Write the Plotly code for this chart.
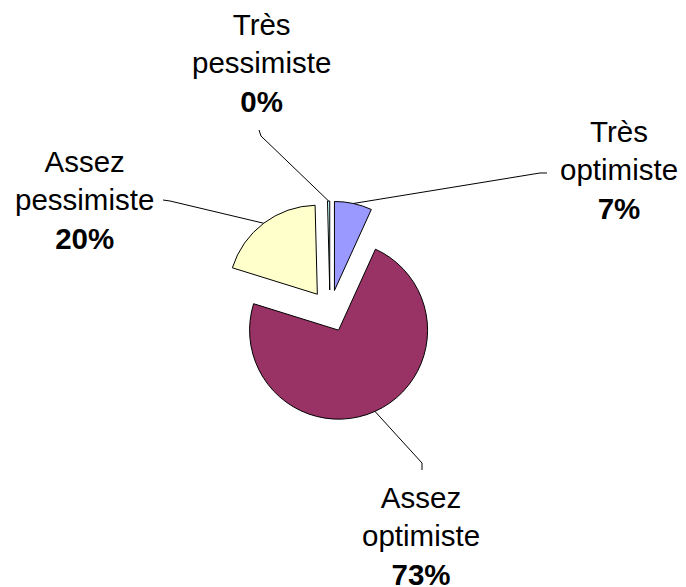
import math
import plotly.graph_objects as go

# ---- data ----
labels = ["Très optimiste", "Assez optimiste", "Assez pessimiste", "Très pessimiste"]
values = [6.8, 73.0, 19.8, 0.4]
colors = ["#9999FF", "#993366", "#FFFFCC", "#CCFFFF"]
label_lines = [["Très", "optimiste"], ["Assez", "optimiste"], ["Assez", "pessimiste"], ["Très", "pessimiste"]]

# ---- layout constants (pixels in the page) ----
W, H = 686, 587
OFF = 8                 # default page body margin offset
CX, CY = 330, 311       # unexploded pie centre
R = 89                  # pie radius
PULL = 0.236
FONT = 29.5
# label block centres and leader elbow points (pixels)
label_pos = [(619, 170), (421, 536), (84, 200), (261, 63)]
leader_elbows = [[(540, 173), (547, 173)],
                 [(422, 463), (422, 470)],
                 [(170, 201), (163, 200)],
                 [(261, 136), (259, 130)]]

def px(x, y):
    return (x - OFF) / W, 1 - (y - OFF) / H

box = R * (1 + PULL)
x0, y0 = px(CX - box, CY + box)
x1, y1 = px(CX + box, CY - box)

fig = go.Figure(go.Pie(
    labels=labels, values=values, sort=False, direction="clockwise", rotation=0,
    marker=dict(colors=colors, line=dict(color="#000000", width=1)),
    pull=[PULL] * len(values), textinfo="none", hoverinfo="label+percent",
    domain=dict(x=[x0, x1], y=[y0, y1]), showlegend=False,
))

total = sum(values)
cum = 0.0
shapes = []
annotations = []
for i, v in enumerate(values):
    mid = (cum + v / 2) / total * 2 * math.pi
    cum += v
    ex = CX + R * (1 + PULL) * math.sin(mid)
    ey = CY - R * (1 + PULL) * math.cos(mid)
    pts = [(ex, ey)] + leader_elbows[i]
    path = "M " + " L ".join(f"{px(a, b)[0]:.5f},{px(a, b)[1]:.5f}" for a, b in pts)
    shapes.append(dict(type="path", xref="paper", yref="paper", path=path,
                       line=dict(color="#000000", width=1)))
    pct = round(v / total * 100)
    lx, ly = px(*label_pos[i])
    annotations.append(dict(
        x=lx, y=ly, xref="paper", yref="paper", xanchor="center", yanchor="middle",
        text="<br>".join(label_lines[i]) + f"<br><b>{pct}%</b>", showarrow=False,
        font=dict(family="Liberation Sans, Arial, sans-serif", size=FONT, color="#000000"),
    ))

fig.update_layout(
    width=W, height=H, margin=dict(l=0, r=0, t=0, b=0),
    paper_bgcolor="#FFFFFF", plot_bgcolor="#FFFFFF",
    shapes=shapes, annotations=annotations,
)
fig.write_html("out.html")
